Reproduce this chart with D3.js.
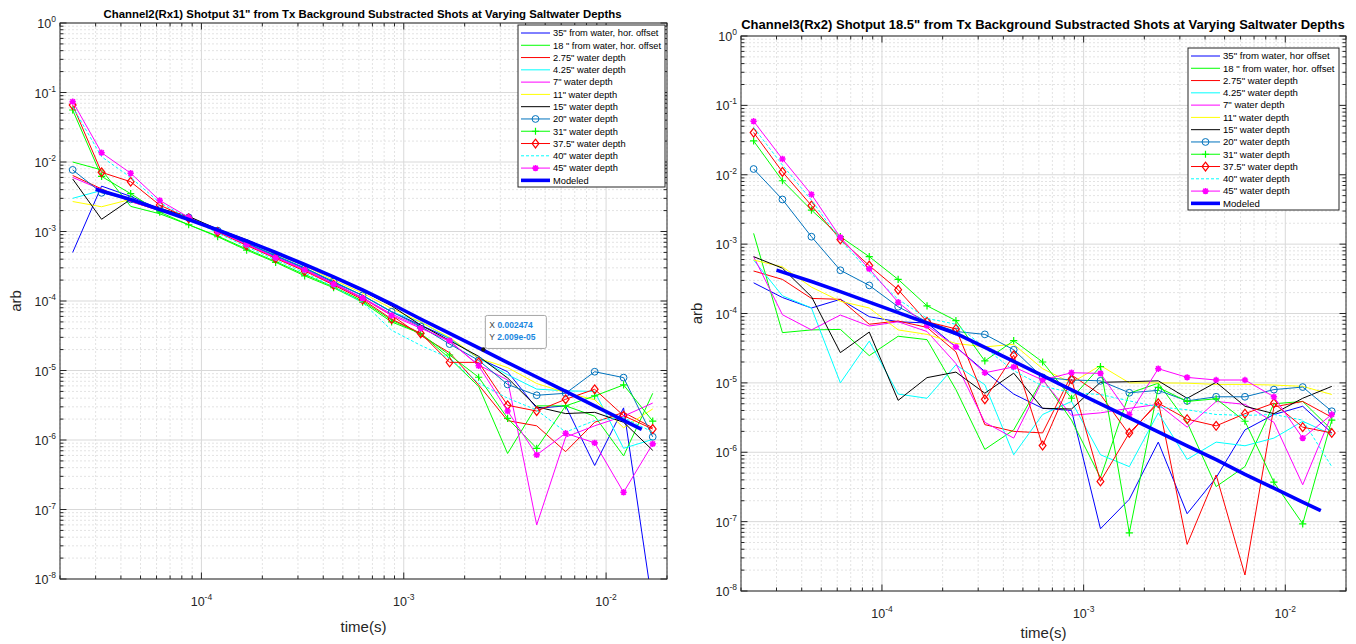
<!DOCTYPE html>
<html>
<head>
<meta charset="utf-8">
<script src="https://cdn.jsdelivr.net/npm/d3@7"></script>
<style>
  body { margin: 0; background: #fff; }
  svg { display: block; }
  text { font-family: Arial, "Liberation Sans", Helvetica, sans-serif; }
</style>
</head>
<body>
<svg id="fig" width="1356" height="644"></svg>
<script>
// ---------------------------------------------------------------------------
// Time gates (s) shared by every measured curve, and the model's own times
// ---------------------------------------------------------------------------
const gateTimes = [2.31e-5, 3.21e-5, 4.47e-5, 6.22e-5, 8.65e-5, 1.203e-4, 1.673e-4,
  2.327e-4, 3.237e-4, 4.50e-4, 6.26e-4, 8.71e-4, 1.212e-3, 1.685e-3, 2.345e-3,
  3.26e-3, 4.54e-3, 6.31e-3, 8.78e-3, 1.22e-2, 1.70e-2];
const modelTimes = [3.0e-5, 4.47e-5, 6.22e-5, 8.65e-5, 1.203e-4, 1.673e-4,
  2.327e-4, 3.237e-4, 4.50e-4, 6.26e-4, 8.71e-4, 1.212e-3, 1.685e-3, 2.345e-3,
  3.26e-3, 4.54e-3, 6.31e-3, 8.78e-3, 1.22e-2, 1.5e-2];

// Legend labels
const labelsRx1 = ['35" from water, hor. offset', '18 " from water, hor. offset', '2.75" water depth',
  '4.25" water depth', '7" water depth', '11" water depth', '15" water depth', '20" water depth',
  '31" water depth', '37.5" water depth', '40" water depth', '45" water depth', 'Modeled'];
const labelsRx2 = ['35" from water, hor offset', '18 " from water, hor. offset', '2.75" water depth',
  '4.25" water depth', '7" water depth', '11" water depth', '15" water depth', '20" water depth',
  '31" water depth', '37.5" water depth', '40" water depth', '45" water depth', 'Modeled'];

// Axis ticks
const xTickValues = [1e-4, 1e-3, 1e-2];
const xTickText = ["-4", "-3", "-2"];
const yTickValues = [1, 1e-1, 1e-2, 1e-3, 1e-4, 1e-5, 1e-6, 1e-7, 1e-8];
const yTickText = ["0", "-1", "-2", "-3", "-4", "-5", "-6", "-7", "-8"];

// Titles
const titleRx1 = 'Channel2(Rx1) Shotput 31" from Tx Background Substracted Shots at Varying Saltwater Depths';
const titleRx2 = 'Channel3(Rx2) Shotput 18.5" from Tx Background Substracted Shots at Varying Saltwater Depths';

// Data tip on the Rx1 model curve
const tipTime = 0.002474;
const tipValue = 2.009e-5;

// ---------------------------------------------------------------------------
// Channel 2 (Rx1) decays, arb
// ---------------------------------------------------------------------------
const rx1Offset35 = [5.0e-4, 4.5e-3, 3.2e-3, 2.1e-3, 1.6e-3, 1.02e-3, 6.7e-4, 4.4e-4, 2.95e-4, 1.85e-4, 1.2e-4, 7.0e-5, 4.5e-5, 2.9e-5, 1.5e-5, 9.6e-6, 2.86e-6, 3.1e-6, 4.3e-7, 2.9e-6, 4.0e-9];
const rx1Offset18 = [1.0e-2, 7.7e-3, 2.3e-3, 1.8e-3, 1.25e-3, 8.6e-4, 5.6e-4, 3.7e-4, 2.4e-4, 1.6e-4, 1.0e-4, 5.3e-5, 3.4e-5, 1.5e-5, 5.9e-6, 6.4e-7, 3.1e-6, 3.1e-6, 2.2e-6, 5.9e-7, 4.7e-6];
const rx1Depth2_75 = [6.4e-3, 4.1e-3, 2.7e-3, 2.0e-3, 1.55e-3, 1.0e-3, 6.5e-4, 4.2e-4, 2.8e-4, 1.75e-4, 1.1e-4, 6.2e-5, 3.2e-5, 1.8e-5, 6.2e-6, 1.9e-6, 1.6e-6, 6.8e-7, 1.8e-6, 2.5e-6, 1.5e-6];
const rx1Depth4_25 = [3.0e-3, 3.9e-3, 2.9e-3, 2.1e-3, 1.6e-3, 1.05e-3, 6.9e-4, 4.5e-4, 3.0e-4, 1.9e-4, 1.2e-4, 7.0e-5, 5.0e-5, 2.9e-5, 1.5e-5, 8.7e-6, 5.4e-6, 5.1e-6, 5.0e-6, 7.6e-7, 1.02e-6];
const rx1Depth7 = [6.0e-3, 4.0e-3, 2.7e-3, 2.0e-3, 1.55e-3, 1.0e-3, 6.6e-4, 4.3e-4, 2.85e-4, 1.8e-4, 1.12e-4, 6.5e-5, 4.2e-5, 2.6e-5, 1.2e-5, 7.3e-6, 6.0e-8, 1.1e-6, 1.6e-6, 2.2e-6, 3.4e-6];
const rx1Depth11 = [2.7e-3, 2.27e-3, 2.9e-3, 2.15e-3, 1.62e-3, 1.06e-3, 7.2e-4, 4.7e-4, 3.2e-4, 2.0e-4, 1.3e-4, 7.8e-5, 5.0e-5, 3.0e-5, 1.5e-5, 1.1e-5, 6.5e-6, 4.8e-6, 3.8e-6, 1.5e-6, 2.8e-6];
const rx1Depth15 = [5.7e-3, 1.5e-3, 2.9e-3, 2.15e-3, 1.65e-3, 1.08e-3, 7.6e-4, 5.0e-4, 3.4e-4, 2.2e-4, 1.4e-4, 8.5e-5, 4.5e-5, 2.7e-5, 1.6e-5, 7.8e-6, 3.0e-6, 2.4e-6, 2.5e-6, 1.8e-6, 7.1e-7];
const rx1Depth20 = [7.7e-3, 3.6e-3, 2.9e-3, 2.1e-3, 1.6e-3, 1.03e-3, 6.8e-4, 4.5e-4, 3.0e-4, 1.9e-4, 1.2e-4, 7.0e-5, 4.3e-5, 2.4e-5, 1.4e-5, 6.3e-6, 4.4e-6, 4.7e-6, 9.6e-6, 7.9e-6, 1.11e-6];
const rx1Depth31 = [5.6e-2, 6.2e-3, 3.5e-3, 1.9e-3, 1.25e-3, 8.4e-4, 5.4e-4, 3.6e-4, 2.3e-4, 1.55e-4, 9.6e-5, 5.0e-5, 3.4e-5, 1.67e-5, 8.0e-6, 2.05e-6, 7.6e-7, 3.1e-6, 4.3e-6, 6.2e-6, 1.87e-6];
const rx1Depth37_5 = [6.6e-2, 7.1e-3, 5.2e-3, 2.4e-3, 1.55e-3, 9.8e-4, 6.3e-4, 4.1e-4, 2.7e-4, 1.7e-4, 1.05e-4, 5.5e-5, 3.43e-5, 1.31e-5, 1.31e-5, 3.16e-6, 2.61e-6, 3.85e-6, 5.37e-6, 2.24e-6, 1.44e-6];
const rx1Depth40 = [6.2e-2, 1.19e-2, 6.0e-3, 2.6e-3, 1.55e-3, 9.5e-4, 6.0e-4, 3.9e-4, 2.55e-4, 1.6e-4, 9.5e-5, 3.8e-5, 2.3e-5, 1.5e-5, 6.6e-6, 4.0e-6, 2.7e-6, 1.3e-6, 1.9e-6, 2.1e-6, 1.3e-6];
const rx1Depth45 = [7.4e-2, 1.36e-2, 6.9e-3, 2.8e-3, 1.6e-3, 1.0e-3, 6.5e-4, 4.2e-4, 2.8e-4, 1.75e-4, 1.1e-4, 6.2e-5, 4.05e-5, 2.69e-5, 1.17e-5, 2.61e-6, 6.1e-7, 1.25e-6, 9.1e-7, 1.77e-7, 8.8e-7];
const rx1Modeled = [4.05e-3, 2.89e-3, 2.07e-3, 1.49e-3, 1.05e-3, 7.30e-4, 4.99e-4, 3.35e-4, 2.22e-4, 1.44e-4, 9.05e-5, 5.51e-5, 3.41e-5, 2.11e-5, 1.30e-5, 8.06e-6, 4.99e-6, 3.09e-6, 1.91e-6, 1.42e-6];

// ---------------------------------------------------------------------------
// Channel 3 (Rx2) decays, arb
// ---------------------------------------------------------------------------
const rx2Offset35 = [2.77e-4, 1.7e-4, 1.2e-4, 1.6e-4, 9.0e-5, 7.6e-5, 7.3e-5, 3.3e-5, 1.46e-5, 6.9e-6, 4.3e-6, 4.0e-6, 7.9e-8, 2.1e-7, 1.4e-6, 1.3e-7, 4.3e-7, 2.1e-6, 3.5e-6, 4.6e-6, 1.9e-6];
const rx2Offset18 = [1.43e-3, 5.3e-5, 5.8e-5, 5.9e-5, 2.47e-5, 4.7e-5, 4.2e-5, 8.0e-6, 1.1e-6, 2.1e-6, 1.14e-5, 2.9e-6, 4.3e-7, 7.1e-6, 9.9e-6, 2.7e-6, 3.2e-7, 6.2e-7, 5.0e-6, 5.4e-6, 2.1e-6];
const rx2Depth2_75 = [4.1e-4, 3.1e-4, 1.65e-4, 1.6e-4, 7.0e-5, 7.8e-5, 6.3e-5, 2.8e-5, 2.5e-6, 2.0e-6, 1.9e-6, 1.3e-5, 6.8e-6, 1.8e-6, 5.4e-6, 4.7e-8, 4.7e-7, 1.7e-8, 4.5e-6, 5.4e-6, 3.2e-6];
const rx2Depth4_25 = [5.9e-4, 1.8e-4, 1.2e-4, 1.0e-5, 4.0e-5, 6.9e-6, 6.0e-6, 1.82e-5, 9.4e-6, 9.2e-7, 3.5e-6, 5.4e-6, 9.2e-7, 6.2e-7, 3.7e-6, 7.9e-7, 1.4e-6, 1.24e-6, 1.6e-6, 2.8e-6, 1.8e-6];
const rx2Depth7 = [6.6e-4, 9.6e-5, 5.8e-5, 9.5e-5, 6.6e-5, 7.6e-5, 5.5e-5, 1.9e-5, 2.7e-6, 1.6e-6, 1.1e-5, 3.4e-6, 3.7e-6, 4.3e-6, 4.9e-6, 2.3e-6, 5.4e-6, 4.9e-6, 2.7e-6, 3.4e-7, 3.5e-6];
const rx2Depth11 = [5.9e-4, 4.7e-4, 2.4e-4, 1.5e-4, 1.2e-4, 5.8e-5, 5.0e-5, 3.7e-5, 3.3e-5, 3.6e-5, 1.6e-5, 1.0e-5, 1.78e-5, 1.0e-5, 1.0e-5, 9.9e-6, 9.5e-6, 9.5e-6, 9.3e-6, 8.9e-6, 6.8e-6];
const rx2Depth15 = [6.6e-4, 4.5e-4, 1.75e-4, 2.73e-5, 5.4e-5, 5.6e-6, 1.19e-5, 1.43e-5, 7.1e-6, 1.38e-5, 4.3e-6, 4.2e-6, 1.02e-5, 1.04e-5, 1.07e-5, 6.0e-6, 1.02e-5, 4.6e-6, 3.6e-6, 6.0e-6, 8.9e-6];
const rx2Depth20 = [1.21e-2, 4.4e-3, 1.28e-3, 4.2e-4, 2.54e-4, 1.25e-4, 7.6e-5, 5.5e-5, 5.0e-5, 3.0e-5, 1.2e-5, 1.1e-5, 1.07e-5, 7.2e-6, 7.8e-6, 5.5e-6, 6.3e-6, 6.3e-6, 8.0e-6, 8.7e-6, 3.9e-6];
const rx2Depth31 = [3.07e-2, 8.2e-3, 3.1e-3, 1.28e-3, 6.6e-4, 3.1e-4, 1.29e-4, 7.9e-5, 2.07e-5, 4.06e-5, 2.0e-5, 6.0e-6, 1.72e-5, 6.9e-8, 8.6e-6, 5.4e-6, 5.9e-6, 2.8e-6, 3.7e-7, 9.3e-8, 2.9e-6];
const rx2Depth37_5 = [4.05e-2, 1.1e-2, 3.6e-3, 1.17e-3, 4.9e-4, 2.2e-4, 7.6e-5, 6.0e-5, 5.8e-6, 2.5e-5, 1.25e-6, 1.13e-5, 3.8e-7, 1.9e-6, 5.1e-6, 3.0e-6, 2.4e-6, 3.6e-6, 5.1e-6, 2.3e-6, 1.9e-6];
const rx2Depth40 = [4.8e-2, 1.38e-2, 4.3e-3, 1.15e-3, 4.0e-4, 1.6e-4, 8.5e-5, 7.0e-5, 3.2e-5, 1.5e-5, 9.0e-6, 7.2e-6, 6.8e-6, 5.5e-6, 4.5e-6, 4.1e-6, 3.5e-6, 3.4e-6, 3.5e-6, 2.9e-6, 6.2e-7];
const rx2Depth45 = [5.9e-2, 1.69e-2, 5.2e-3, 1.25e-3, 4.4e-4, 1.45e-4, 6.7e-5, 3.3e-5, 1.4e-5, 1.7e-5, 1.1e-5, 1.4e-5, 1.37e-5, 3.5e-6, 1.6e-5, 1.2e-5, 1.1e-5, 1.1e-5, 6.3e-6, 1.6e-6, 3.5e-6];
const rx2Modeled = [4.22e-4, 2.89e-4, 2.07e-4, 1.46e-4, 1.03e-4, 7.3e-5, 5.15e-5, 3.24e-5, 2.04e-5, 1.27e-5, 7.9e-6, 4.99e-6, 3.14e-6, 1.97e-6, 1.24e-6, 7.8e-7, 4.8e-7, 3.03e-7, 1.91e-7, 1.44e-7];

// ---------------------------------------------------------------------------
// Line styles, in legend order
// ---------------------------------------------------------------------------
const seriesStyles = [
  { color: "#0000ff", width: 1, marker: null, dash: null },
  { color: "#00ff00", width: 1, marker: null, dash: null },
  { color: "#ff0000", width: 1, marker: null, dash: null },
  { color: "#00ffff", width: 1, marker: null, dash: null },
  { color: "#ff00ff", width: 1, marker: null, dash: null },
  { color: "#ffff00", width: 1, marker: null, dash: null },
  { color: "#000000", width: 1, marker: null, dash: null },
  { color: "#0072bd", width: 1, marker: "o", dash: null },
  { color: "#00ff00", width: 1, marker: "+", dash: null },
  { color: "#ff0000", width: 1, marker: "d", dash: null },
  { color: "#00ffff", width: 1, marker: null, dash: "3,2" },
  { color: "#ff00ff", width: 1, marker: "*", dash: null },
  { color: "#0000ff", width: 3.6, marker: null, dash: null }
];

const AXIS_COLOR = "#262626";
const svg = d3.select("#fig");
svg.append("rect").attr("width", 1356).attr("height", 644).attr("fill", "#ffffff");

function drawMarker(g, type, cx, cy, color) {
  if (type === "o") {
    g.append("circle").attr("cx", cx).attr("cy", cy).attr("r", 3.4)
      .attr("fill", "none").attr("stroke", color).attr("stroke-width", 1);
  } else if (type === "+") {
    g.append("path").attr("d", `M${cx - 3.6},${cy}H${cx + 3.6}M${cx},${cy - 3.6}V${cy + 3.6}`)
      .attr("stroke", color).attr("stroke-width", 1.2).attr("fill", "none");
  } else if (type === "d") {
    g.append("path").attr("d", `M${cx},${cy - 4.4}L${cx + 3.4},${cy}L${cx},${cy + 4.4}L${cx - 3.4},${cy}Z`)
      .attr("fill", "none").attr("stroke", color).attr("stroke-width", 1.2);
  } else if (type === "*") {
    const s = 3.2, k = 2.3;
    g.append("path").attr("d",
      `M${cx - s},${cy}H${cx + s}M${cx},${cy - s}V${cy + s}M${cx - k},${cy - k}L${cx + k},${cy + k}M${cx - k},${cy + k}L${cx + k},${cy - k}`)
      .attr("stroke", color).attr("stroke-width", 1.6).attr("fill", "none");
  }
}

function powerLabel(sel, exp, baseSize, supSize) {
  sel.append("tspan").attr("font-size", baseSize).text("10");
  sel.append("tspan").attr("font-size", supSize).attr("dy", -6).text(exp);
}

function drawPanel(cfg) {
  const x = d3.scaleLog().domain([2e-5, 2e-2]).range([cfg.left, cfg.right]);
  const y = d3.scaleLog().domain([1e-8, 1]).range([cfg.bottom, cfg.top]);
  const g = svg.append("g");
  const W = cfg.right - cfg.left, H = cfg.bottom - cfg.top;

  // minor / major ticks from the scales
  const xMinor = x.ticks().filter(v => !xTickValues.some(t => Math.abs(t - v) / t < 1e-9));
  const yMinor = y.ticks().filter(v => !yTickValues.some(t => Math.abs(t - v) / t < 1e-9));

  // grid
  const grid = g.append("g");
  grid.selectAll(".xmin").data(xMinor).join("line")
    .attr("x1", d => x(d)).attr("x2", d => x(d)).attr("y1", cfg.top).attr("y2", cfg.bottom)
    .attr("stroke", "#e3e3e3").attr("stroke-width", 1).attr("stroke-dasharray", "2,2");
  grid.selectAll(".ymin").data(yMinor).join("line")
    .attr("x1", cfg.left).attr("x2", cfg.right).attr("y1", d => y(d)).attr("y2", d => y(d))
    .attr("stroke", "#e3e3e3").attr("stroke-width", 1).attr("stroke-dasharray", "2,2");
  grid.selectAll(".xmaj").data(xTickValues).join("line")
    .attr("x1", d => x(d)).attr("x2", d => x(d)).attr("y1", cfg.top).attr("y2", cfg.bottom)
    .attr("stroke", "#d9d9d9").attr("stroke-width", 1);
  grid.selectAll(".ymaj").data(yTickValues).join("line")
    .attr("x1", cfg.left).attr("x2", cfg.right).attr("y1", d => y(d)).attr("y2", d => y(d))
    .attr("stroke", "#d9d9d9").attr("stroke-width", 1);

  // ticks on all four sides, pointing inward
  const ticks = g.append("g").attr("stroke", AXIS_COLOR).attr("stroke-width", 1);
  const tickSet = (vals, len, horizontal) => {
    vals.forEach(v => {
      if (horizontal) {
        const px = x(v);
        ticks.append("line").attr("x1", px).attr("x2", px).attr("y1", cfg.bottom).attr("y2", cfg.bottom - len);
        ticks.append("line").attr("x1", px).attr("x2", px).attr("y1", cfg.top).attr("y2", cfg.top + len);
      } else {
        const py = y(v);
        ticks.append("line").attr("x1", cfg.left).attr("x2", cfg.left + len).attr("y1", py).attr("y2", py);
        ticks.append("line").attr("x1", cfg.right).attr("x2", cfg.right - len).attr("y1", py).attr("y2", py);
      }
    });
  };
  tickSet(xMinor, 3.5, true);
  tickSet(xTickValues, 6.5, true);
  tickSet(yMinor, 3.5, false);
  tickSet(yTickValues, 6.5, false);

  // data
  const clipId = "clip" + cfg.id;
  svg.append("clipPath").attr("id", clipId).append("rect")
    .attr("x", cfg.left).attr("y", cfg.top).attr("width", W).attr("height", H);
  const plot = g.append("g").attr("clip-path", `url(#${clipId})`);
  const line = d3.line().x(d => x(d[0])).y(d => y(d[1]));

  cfg.series.forEach((vals, i) => {
    const st = seriesStyles[i];
    const pts = gateTimes.map((t, k) => [t, vals[k]]);
    plot.append("path").attr("d", line(pts)).attr("fill", "none")
      .attr("stroke", st.color).attr("stroke-width", st.width)
      .attr("stroke-dasharray", st.dash).attr("stroke-linejoin", "round");
    if (st.marker) {
      const mg = plot.append("g");
      pts.forEach(p => drawMarker(mg, st.marker, x(p[0]), y(p[1]), st.color));
    }
  });
  const ms = seriesStyles[12];
  plot.append("path").attr("d", line(modelTimes.map((t, k) => [t, cfg.model[k]])))
    .attr("fill", "none").attr("stroke", ms.color).attr("stroke-width", ms.width)
    .attr("stroke-linecap", "butt").attr("stroke-linejoin", "round");

  // box
  g.append("rect").attr("x", cfg.left).attr("y", cfg.top).attr("width", W).attr("height", H)
    .attr("fill", "none").attr("stroke", AXIS_COLOR).attr("stroke-width", 1);

  // tick labels
  xTickValues.forEach((v, i) => {
    const t = g.append("text").attr("x", x(v)).attr("y", cfg.bottom + 27)
      .attr("text-anchor", "middle").attr("fill", AXIS_COLOR);
    powerLabel(t, xTickText[i], 12.5, 8.5);
  });
  yTickValues.forEach((v, i) => {
    const t = g.append("text").attr("x", cfg.left - 4).attr("y", y(v) + 5)
      .attr("text-anchor", "end").attr("fill", AXIS_COLOR);
    powerLabel(t, yTickText[i], 12.5, 8.5);
  });

  // title, sized to span its set width
  const title = g.append("text").attr("x", cfg.titleX).attr("y", cfg.titleY)
    .attr("text-anchor", "middle").attr("font-weight", "bold").attr("font-size", 10)
    .attr("fill", "#000").text(cfg.title);
  const tw = title.node().getComputedTextLength();
  if (tw > 0) title.attr("font-size", 10 * cfg.titleWidth / tw);

  g.append("text").attr("x", (cfg.left + cfg.right) / 2).attr("y", cfg.xLabelY)
    .attr("text-anchor", "middle").attr("font-size", 15).attr("fill", AXIS_COLOR).text("time(s)");
  g.append("text").attr("transform", `translate(${cfg.yLabelX},${(cfg.top + cfg.bottom) / 2}) rotate(-90)`)
    .attr("text-anchor", "middle").attr("dy", "0.35em").attr("font-size", 15)
    .attr("fill", AXIS_COLOR).text("arb");

  // legend
  const L = cfg.legend;
  const lg = g.append("g");
  lg.append("rect").attr("x", L.x).attr("y", L.y).attr("width", L.w).attr("height", L.h)
    .attr("fill", "#fff").attr("stroke", AXIS_COLOR).attr("stroke-width", 1);
  cfg.labels.forEach((lab, i) => {
    const st = seriesStyles[i];
    const cy = L.y + 8 + i * 12.28;
    const x0 = L.x + 3, x1 = L.x + 32;
    lg.append("line").attr("x1", x0).attr("x2", x1).attr("y1", cy).attr("y2", cy)
      .attr("stroke", st.color).attr("stroke-width", st.width).attr("stroke-dasharray", st.dash);
    if (st.marker) drawMarker(lg, st.marker, (x0 + x1) / 2, cy, st.color);
    lg.append("text").attr("x", x1 + 3).attr("y", cy + 3.3).attr("font-size", L.font)
      .attr("fill", "#000").text(lab);
  });

  // data tip
  if (cfg.tip) {
    const px = x(cfg.tip.t), py = y(cfg.tip.v);
    const tg = g.append("g");
    tg.append("rect").attr("x", px + 2).attr("y", py - 34).attr("width", 61).attr("height", 33)
      .attr("rx", 2).attr("fill", "#ffffff").attr("fill-opacity", 0.95)
      .attr("stroke", "#a6a6a6").attr("stroke-width", 1);
    tg.append("circle").attr("cx", px).attr("cy", py).attr("r", 2.2).attr("fill", "#1a1a1a");
    const rows = [["X", cfg.tip.t.toString()], ["Y", cfg.tip.v.toExponential(3).replace("e-", "e-0")]];
    rows.forEach((r, k) => {
      const tt = tg.append("text").attr("x", px + 6).attr("y", py - 21 + k * 12).attr("font-size", 8.5);
      tt.append("tspan").attr("fill", "#404040").text(r[0] + " ");
      tt.append("tspan").attr("fill", "#1a87e0").attr("font-weight", "bold").text(r[1]);
    });
  }
}

drawPanel({
  id: "rx1", left: 60, right: 667, top: 23, bottom: 579,
  titleX: 362.5, titleY: 18, titleWidth: 519, xLabelY: 632, yLabelX: 16, title: titleRx1,
  series: [rx1Offset35, rx1Offset18, rx1Depth2_75, rx1Depth4_25, rx1Depth7, rx1Depth11, rx1Depth15,
    rx1Depth20, rx1Depth31, rx1Depth37_5, rx1Depth40, rx1Depth45],
  model: rx1Modeled, labels: labelsRx1,
  legend: { x: 518, y: 25, w: 147, h: 162, font: 9.3 },
  tip: { t: tipTime, v: tipValue }
});

drawPanel({
  id: "rx2", left: 741, right: 1346, top: 36, bottom: 591,
  titleX: 1043, titleY: 29, titleWidth: 604, xLabelY: 638, yLabelX: 697, title: titleRx2,
  series: [rx2Offset35, rx2Offset18, rx2Depth2_75, rx2Depth4_25, rx2Depth7, rx2Depth11, rx2Depth15,
    rx2Depth20, rx2Depth31, rx2Depth37_5, rx2Depth40, rx2Depth45],
  model: rx2Modeled, labels: labelsRx2,
  legend: { x: 1188, y: 48, w: 151, h: 162, font: 9.6 },
  tip: null
});
</script>
</body>
</html>
